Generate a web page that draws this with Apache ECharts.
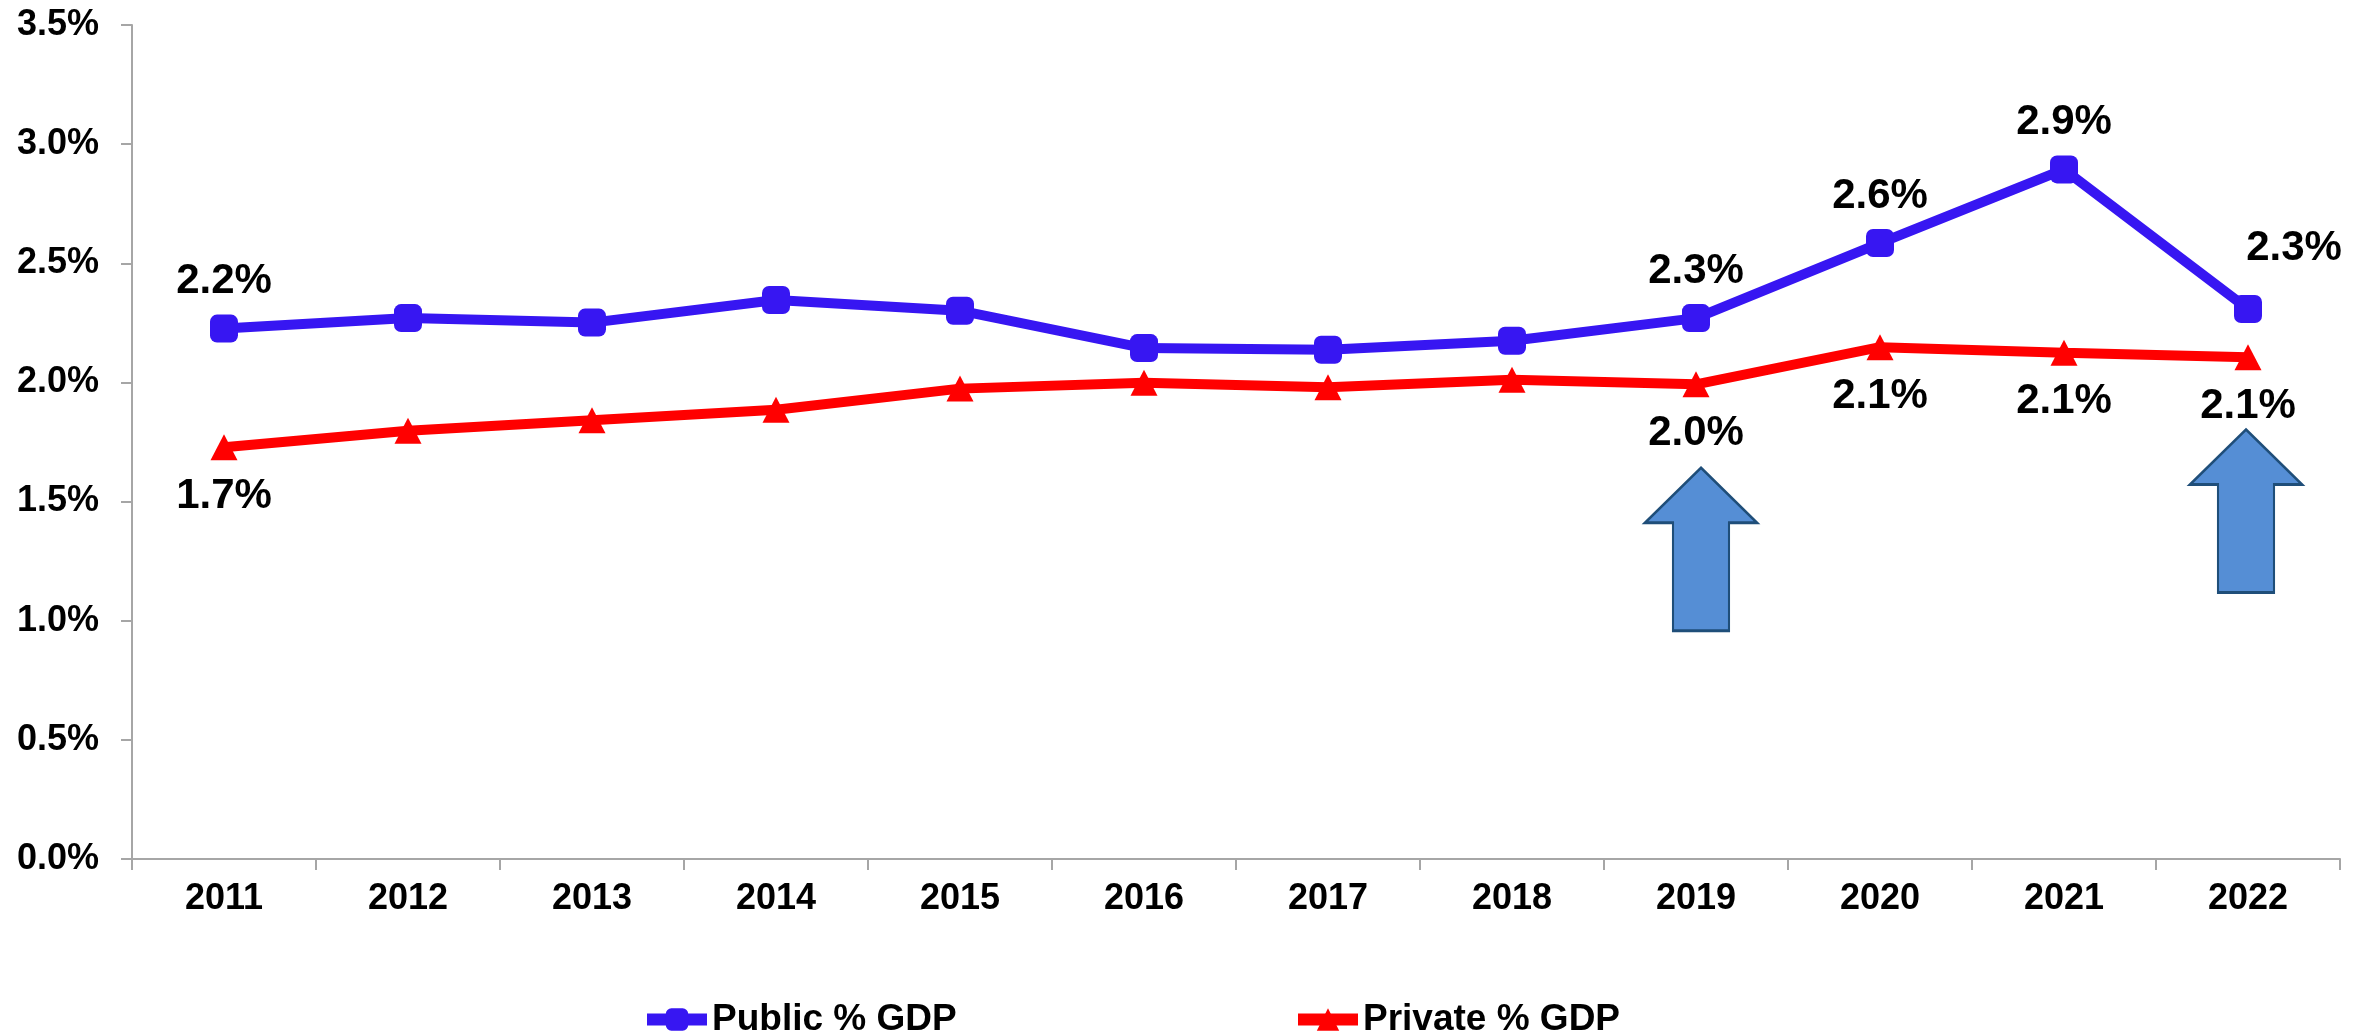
<!DOCTYPE html>
<html>
<head>
<meta charset="utf-8">
<script src="https://cdn.jsdelivr.net/npm/echarts@6/dist/echarts.min.js"></script>
<style>
html,body{margin:0;padding:0;background:#fff;}
#chart{width:2354px;height:1033px;}
</style>
</head>
<body>
<div id="chart"></div>
<script>
// ---- data ----
const years = ['2011','2012','2013','2014','2015','2016','2017','2018','2019','2020','2021','2022'];
const publicGDP  = [2.226, 2.270, 2.251, 2.346, 2.301, 2.144, 2.137, 2.175, 2.270, 2.585, 2.894, 2.308];
const privateGDP = [1.728, 1.797, 1.841, 1.885, 1.974, 1.999, 1.980, 2.011, 1.992, 2.148, 2.125, 2.106];
const publicLabelYears  = ['2011','2019','2020','2021','2022'];
const privateLabelYears = ['2011','2019','2020','2021','2022'];
const arrowYears = ['2019','2022'];
const arrowLevels = [1.30, 1.46];

const FONT = 'Liberation Sans, Arial, sans-serif';
const BLUE = '#3716F2';
const RED = '#FF0000';
const fmt = v => v.toFixed(1) + '%';

const labelBase = {show:true, fontFamily:FONT, fontWeight:'bold', fontSize:42, color:'#000', formatter: p => fmt(p.value)};

const publicData = publicGDP.map((v,i) => {
  const show = publicLabelYears.includes(years[i]);
  const item = {value:v, label:{show:show}};
  if (years[i] === '2022') { item.label.offset = [46,-14]; }
  return item;
});
const privateData = privateGDP.map((v,i) => ({value:v, label:{show: privateLabelYears.includes(years[i])}}));

const arrowPath = 'path://M56 0 L112 55 L84 55 L84 163 L28 163 L28 55 L0 55 Z';

const legendText = {fontFamily:FONT, fontWeight:'bold', fontSize:37, color:'#000'};

const chart = echarts.init(document.getElementById('chart'), null, {renderer:'canvas'});
chart.setOption({
  animation:false,
  backgroundColor:'#fff',
  grid:{left:132, right:14, top:25, bottom:174, containLabel:false},
  legend:[
    {data:['Public % GDP'], left:636, top:996, itemWidth:60, itemHeight:28, itemGap:0,
     lineStyle:{width:12}, textStyle:legendText},
    {data:['Private % GDP'], left:1287, top:996, itemWidth:60, itemHeight:28, itemGap:0,
     lineStyle:{width:12}, textStyle:legendText}
  ],
  xAxis:{
    type:'category', data:years, boundaryGap:true,
    axisLine:{show:true, lineStyle:{color:'#A6A6A6', width:2}},
    axisTick:{show:true, length:11, inside:false, lineStyle:{color:'#A6A6A6', width:2}},
    axisLabel:{fontFamily:FONT, fontWeight:'bold', fontSize:36, color:'#000', margin:22},
    splitLine:{show:false}
  },
  yAxis:{
    type:'value', min:0, max:3.5, interval:0.5,
    axisLine:{show:true, lineStyle:{color:'#A6A6A6', width:2}},
    axisTick:{show:true, length:11, lineStyle:{color:'#A6A6A6', width:2}},
    axisLabel:{fontFamily:FONT, fontWeight:'bold', fontSize:36, color:'#000', margin:33, formatter: v => v.toFixed(1)+'%'},
    splitLine:{show:false}
  },
  series:[
    {name:'Public % GDP', type:'line', data:publicData,
     symbol:'roundRect', symbolSize:28,
     lineStyle:{color:BLUE, width:10}, itemStyle:{color:BLUE},
     label:Object.assign({}, labelBase, {position:'top', distance:12}),
     emphasis:{disabled:true}, z:3},
    {name:'Private % GDP', type:'line', data:privateData,
     symbol:'triangle', symbolSize:[27,26],
     lineStyle:{color:RED, width:10}, itemStyle:{color:RED},
     label:Object.assign({}, labelBase, {position:'bottom', distance:15}),
     emphasis:{disabled:true}, z:2,
     markPoint:{
       silent:true,
       symbol:arrowPath,
       symbolSize:[112,163],
       itemStyle:{color:'#558ED5', borderColor:'#1F4E79', borderWidth:2.5},
       label:{show:false},
       data: arrowYears.map((y,i) => ({coord:[y, arrowLevels[i]], symbolOffset: i===0 ? [5,0] : [-2,0]}))
     }}
  ]
});
</script>
</body>
</html>
